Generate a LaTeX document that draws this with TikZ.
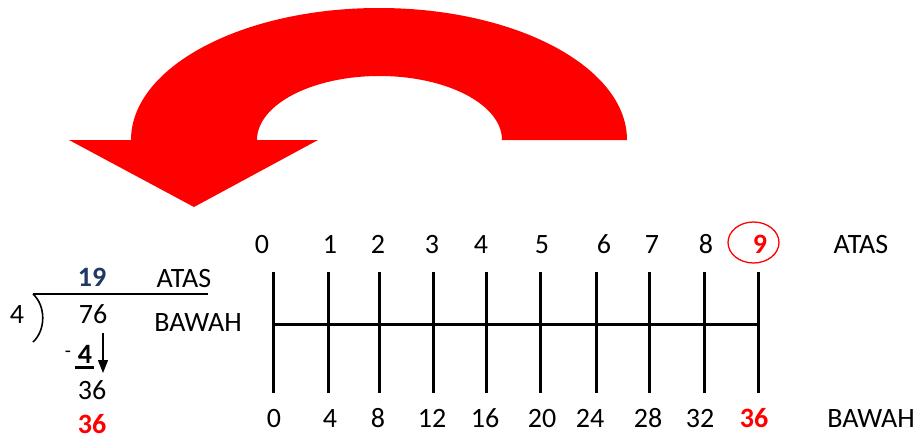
\documentclass[tikz,border=0pt]{standalone}
\usepackage{fontspec}
\setmainfont{Carlito}[Numbers=Lining]
\usetikzlibrary{arrows.meta}
\definecolor{brightred}{HTML}{FF0000}
\definecolor{navyblue}{HTML}{1F3864}
\begin{document}
\begin{tikzpicture}[x=1pt,y=-1pt,
  lbl/.style={font=\fontsize{28}{32}\selectfont, inner sep=0pt, anchor=base},
  hot/.style={lbl, font=\fontsize{28}{32}\selectfont\bfseries, text=brightred},
  tickline/.style={line width=3pt},
  thin/.style={line width=1.2pt}]
\useasboundingbox (0,0) rectangle (920,439);
% big curved arrow
\fill[brightred] (627,140) arc[start angle=0,end angle=180,x radius=248pt,y radius=132pt]
  -- (69,140) -- (194,207) -- (318,140) -- (257,140)
  arc[start angle=180,end angle=0,x radius=122.5pt,y radius=64pt] -- cycle;
% number line
\foreach \x/\n in {273/0,328/1,379/2,433/3,486/4,540/5,596/6,649/7,704/8,758/9}{
  \coordinate (u\n) at (\x,272);
  \coordinate (d\n) at (\x,393);
  \draw[tickline] (u\n) -- (d\n);
}
\coordinate (m0) at (273,324);
\coordinate (m9) at (758,324);
\draw[tickline] (m0) -- (m9);
% top labels
\foreach \x/\t in {262/0,330/1,378/2,432/3,481/4,542/5,604/6,652/7,706/8}{
  \node[lbl] (t\t) at (\x,253) {\t};
}
\node[hot] (t9) at (760,253) {9};
\draw[brightred, line width=1.3pt] (753.5,242.5) ellipse[x radius=25.5pt, y radius=20.5pt];
\node[lbl] (atas) at (861,253) {ATAS};
% bottom labels
\foreach \x/\t in {274/0,330/4,378/8,432/12,485/16,542/20,590/24,648/28,700/32}{
  \node[lbl] (b\t) at (\x,427) {\t};
}
\node[hot] (b36) at (754,427) {36};
\node[lbl] (bawah) at (871,427) {BAWAH};
% long division
\node[lbl, font=\fontsize{28}{32}\selectfont\bfseries, text=navyblue] (q) at (92,286) {19};
\node[lbl] (qatas) at (184,287) {ATAS};
\coordinate (h1) at (33,294);
\coordinate (h2) at (208,294);
\draw[thin] (h1) -- (h2);
\coordinate (br) at (33,342);
\draw[line width=1.6pt] (h1) .. controls (46,306) and (46,330) .. (br);
\node[lbl] (div) at (17,323) {4};
\node[lbl] (dd) at (93,323) {76};
\node[lbl] (dbawah) at (198,331) {BAWAH};
\node[lbl, font=\fontsize{20}{24}\selectfont] (minus) at (68,357) {-};
\node[lbl, font=\fontsize{28}{32}\selectfont\bfseries] (sub) at (85,363) {4};
\coordinate (ul1) at (75,367);
\coordinate (ul2) at (94,367);
\draw[line width=3pt] (ul1) -- (ul2);
\coordinate (a1) at (103,333);
\coordinate (a2) at (103,373);
\draw[line width=1.3pt, -{Triangle[width=10pt,length=13pt]}] (a1) -- (a2);
\node[lbl] (r1) at (92,399) {36};
\node[hot] (r2) at (92,433) {36};
\end{tikzpicture}
\end{document}
